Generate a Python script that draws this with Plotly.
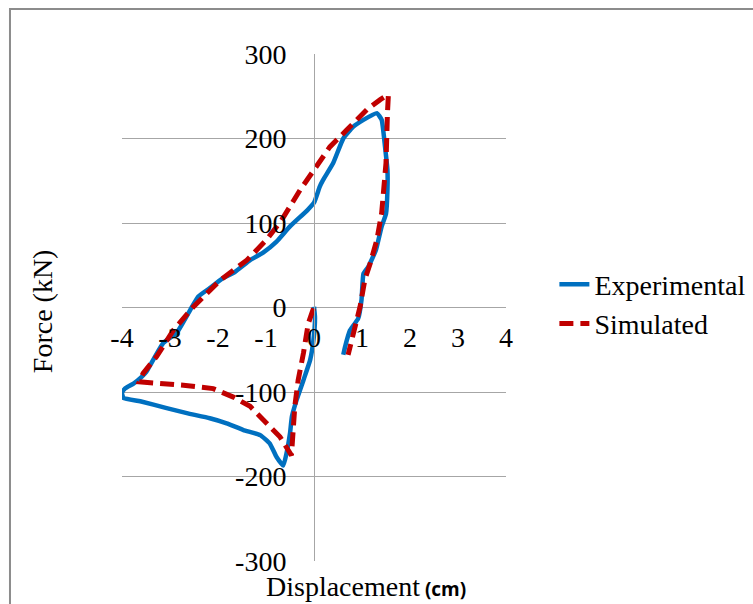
import plotly.graph_objects as go

# Experimental hysteresis loop (displacement in cm, force in kN)
exp_disp = [0.00, 0.02, -0.01, -0.08, -0.22, -0.36, -0.46, -0.50, -0.57, -0.64,
            -0.78, -0.92, -1.12, -1.47, -1.82, -2.17, -2.65, -3.07, -3.62, -3.97,
            -4.00, -3.94, -3.76, -3.59, -3.49, -3.40, -3.14, -2.86, -2.58, -2.41,
            -2.17, -1.92, -1.65, -1.33, -1.06, -0.78, -0.50, -0.14, 0.00, 0.12,
            0.19, 0.40, 0.61, 0.82, 1.03, 1.31, 1.41, 1.48, 1.53, 1.53,
            1.50, 1.41, 1.29, 1.13, 1.03, 0.99, 0.92, 0.75, 0.65, 0.61]
exp_force = [1, -11, -38, -62, -86, -109, -129, -149, -172, -187,
             -177, -161, -151, -145, -137, -131, -125, -119, -111, -107,
             -101, -96, -90, -82, -76, -67, -42, -30, -3, 13,
             23, 34, 42, 56, 65, 78, 96, 115, 124, 143,
             151, 171, 200, 214, 222, 230, 222, 190, 163, 139,
             111, 96, 68, 48, 40, 9, -13, -27, -46, -56]

# Simulated response
sim_disp = [-0.01, -0.12, -0.22, -0.33, -0.40, -0.44, -0.47, -0.71, -0.99, -1.33,
            -1.68, -2.10, -2.72, -3.21, -3.64, -3.56, -3.28, -2.93, -2.51, -1.96,
            -1.40, -0.99, -0.68, -0.29, 0.00, 0.33, 0.68, 1.10, 1.38, 1.55,
            1.53, 1.50, 1.41, 1.31, 1.17, 1.06, 0.96, 0.85, 0.71]
sim_force = [-1, -19, -54, -86, -117, -149, -175, -153, -137, -117,
             -106, -96, -92, -90, -88, -78, -58, -27, 1, 32,
             56, 80, 103, 139, 163, 190, 210, 234, 246, 252,
             230, 171, 112, 80, 52, 33, 1, -23, -56]

x_ticks = [-4, -3, -2, -1, 0, 1, 2, 3, 4]
y_ticks = [-300, -200, -100, 0, 100, 200, 300]

SERIF = "Liberation Serif"
GRID = "#A6A6A6"

fig = go.Figure()
fig.add_trace(go.Scatter(
    x=exp_disp, y=exp_force, mode="lines", name="Experimental",
    line=dict(color="#0070C0", width=4.5, shape="spline", smoothing=0.4),
))
fig.add_trace(go.Scatter(
    x=sim_disp, y=sim_force, mode="lines", name="Simulated",
    line=dict(color="#C00000", width=5, dash="14px,7px"),
))

fig.update_layout(
    width=753, height=604,
    margin=dict(l=122, r=247, t=54, b=43, autoexpand=False),
    paper_bgcolor="white", plot_bgcolor="white",
    font=dict(family=SERIF, size=28, color="black"),
    showlegend=True,
    legend=dict(x=1.126, y=0.507, xanchor="left", yanchor="middle",
                font=dict(family=SERIF, size=28), bgcolor="rgba(0,0,0,0)",
                tracegroupgap=0),
    xaxis=dict(range=[-4, 4], tickvals=x_ticks, ticktext=[str(v) for v in x_ticks],
               anchor="free", position=0.5, showgrid=False, zeroline=False,
               showline=False, ticks="", ticklabelstandoff=10,
               tickfont=dict(family=SERIF, size=28)),
    yaxis=dict(range=[-300, 300], tickvals=y_ticks, ticktext=[str(v) for v in y_ticks],
               anchor="free", position=0.5, showgrid=True, gridcolor=GRID, gridwidth=1,
               zeroline=False, showline=True, linecolor=GRID, linewidth=1,
               ticks="", ticklabelstandoff=22,
               tickfont=dict(family=SERIF, size=28)),
    annotations=[
        dict(text="Force (kN)", xref="paper", yref="paper", x=-0.208, y=0.493,
             textangle=-90, showarrow=False, xanchor="center", yanchor="middle",
             font=dict(family=SERIF, size=28)),
        dict(text="Displacement<span style='font-family:Open Sans;font-size:19px;font-weight:bold'> (cm)</span>",
             xref="paper", yref="paper", x=0.635, y=-0.051, showarrow=False,
             xanchor="center", yanchor="middle", font=dict(family=SERIF, size=28)),
    ],
    shapes=[
        dict(type="rect", xref="paper", yref="paper",
             x0=-0.2917, x1=1.70, y0=-0.12, y1=1.0888,
             line=dict(color="#8C8C8C", width=2), fillcolor="rgba(0,0,0,0)", layer="below"),
    ],
)

fig.write_html("out.html")
